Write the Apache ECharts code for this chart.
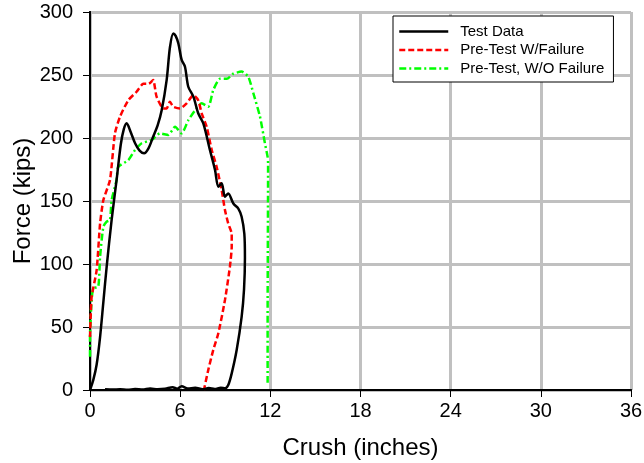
<!DOCTYPE html>
<html>
<head>
<meta charset="utf-8">
<script src="https://cdn.jsdelivr.net/npm/echarts@6/dist/echarts.min.js"></script>
<style>
html,body{margin:0;padding:0;background:#fff;}
#chart{width:644px;height:463px;}
</style>
</head>
<body>
<div id="chart"></div>
<script>
var seriesNames = ['Test Data', 'Pre-Test W/Failure', 'Pre-Test, W/O Failure'];
var xTicks = [0, 6, 12, 18, 24, 30, 36];
var yTicks = [0, 50, 100, 150, 200, 250, 300];

var testX = [0, 0.22, 0.44, 0.67, 0.89, 1.11, 1.44, 1.77, 2.05, 2.25, 2.44, 2.7, 3.0, 3.3, 3.6, 3.9, 4.2, 4.5, 4.77, 5.1, 5.32, 5.54, 5.7, 5.88, 6.1, 6.32, 6.54, 6.88, 7.2, 7.54, 7.98, 8.32, 8.54, 8.76, 8.98, 9.2, 9.54, 9.87, 10.09, 10.27, 10.31, 10.25, 10.09, 9.76, 9.43, 9.2, 8.98, 8.7, 8.3, 7.9, 7.5, 7.0, 6.5, 6.1, 5.8, 5.5, 5.0, 4.5, 4.0, 3.5, 3.0, 2.5, 2.0, 1.5, 1.0];
var testY = [0, 8, 20, 42, 70, 98, 135, 166.7, 195, 207, 211.7, 205, 195.8, 190, 187.8, 192, 201, 210, 222, 246, 272, 283, 281, 275, 262, 256.6, 240.7, 232.8, 219.6, 211.6, 190.5, 174.6, 161.4, 164, 153.4, 156, 148, 144, 137.5, 124, 105, 80, 58, 31.7, 13.2, 4, 1.3, 1.8, 0.8, 1.5, 0.5, 1.8, 1.2, 3.0, 1.0, 2.2, 1.0, 0.6, 1.2, 0.3, 0.8, 0.2, 0.6, 0.3, 0.5];

var failX = [0, 0.05, 0.11, 0.44, 0.67, 0.89, 1.33, 1.66, 2.0, 2.55, 3.1, 3.55, 3.9, 4.2, 4.43, 4.88, 5.1, 5.32, 5.54, 5.99, 6.43, 6.88, 7.2, 7.43, 7.76, 8.1, 8.43, 8.76, 8.98, 9.2, 9.43, 9.43, 9.31, 8.98, 8.54, 8.2, 7.87, 7.58];
var failY = [42, 60, 74, 95, 132, 150.8, 166.7, 203.7, 217, 230, 236.7, 243, 243, 246, 232.8, 223.5, 223.5, 228.8, 224.8, 223.5, 227.5, 234, 230, 219.6, 209, 190.5, 177, 158.7, 142.9, 132, 124, 113.7, 97.9, 71.4, 45, 31.7, 15.9, 0];

var noFailX = [0, 0, 0.11, 0.22, 0.55, 0.67, 0.89, 1.11, 1.33, 1.44, 1.77, 1.88, 2.55, 3.0, 3.44, 4.1, 4.66, 5.21, 5.66, 6.1, 6.54, 6.99, 7.43, 7.87, 8.2, 8.65, 9.1, 9.54, 10.09, 10.53, 10.87, 11.31, 11.64, 11.82, 11.85, 11.82, 11.82];
var noFailY = [26.4, 42, 71.4, 80.7, 82, 105.8, 129.6, 133.6, 135, 150.8, 166.7, 177, 182.5, 190.5, 195.8, 198.4, 203.7, 202.4, 209, 203.7, 214, 222, 227.5, 224.8, 238, 247, 247, 251, 252.7, 248.7, 235.5, 217, 195.8, 185, 180, 60, 5];

function zip(xs, ys) { return xs.map(function (x, i) { return [x, ys[i]]; }); }

var chart = echarts.init(document.getElementById('chart'), null, {renderer: 'canvas'});
var font = 'Arial, "Liberation Sans", sans-serif';
var gridLine = {show: true, lineStyle: {color: '#c0c0c0', width: 3}};
chart.setOption({
  animation: false,
  backgroundColor: '#fff',
  grid: {left: 90, right: 13, top: 12, bottom: 73, containLabel: false, outerBoundsMode: 'none'},
  legend: {
    data: seriesNames,
    orient: 'vertical',
    left: 393, top: 16,
    backgroundColor: '#fff',
    borderColor: '#000', borderWidth: 1, borderRadius: 0,
    padding: [8, 9, 6, 5],
    itemWidth: 49, itemHeight: 14, itemGap: 3.5,
    itemStyle: {color: 'rgba(0,0,0,0)', borderWidth: 0, opacity: 0},
    lineStyle: {width: 2.5},
    textStyle: {fontFamily: font, fontSize: 15, color: '#000', padding: [0, 0, 0, 7]}
  },
  xAxis: [{
    type: 'value', min: 0, max: 36, interval: 6,
    name: 'Crush (inches)', nameLocation: 'middle', nameGap: 46, nameMoveOverlap: false,
    nameTextStyle: {fontFamily: font, fontSize: 24, color: '#000'},
    axisLine: {show: true, onZero: false, lineStyle: {color: '#000', width: 2}},
    axisTick: {show: true, inside: false, length: 7, lineStyle: {color: '#000', width: 1}},
    axisLabel: {fontFamily: font, fontSize: 20, color: '#000', margin: 11,
      formatter: function (v) { return xTicks.indexOf(v) >= 0 ? String(v) : ''; }},
    splitLine: gridLine
  }, {
    type: 'value', min: 0, max: 36, position: 'top',
    axisLine: {show: true, lineStyle: {color: '#000', width: 2}},
    axisTick: {show: false}, axisLabel: {show: false}, splitLine: {show: false}
  }],
  yAxis: [{
    type: 'value', min: 0, max: 300, interval: 50,
    name: 'Force (kips)', nameLocation: 'middle', nameGap: 55, nameRotate: 90, nameMoveOverlap: false,
    nameTextStyle: {fontFamily: font, fontSize: 24, color: '#000'},
    axisLine: {show: true, onZero: false, lineStyle: {color: '#000', width: 2}},
    axisTick: {show: true, inside: false, length: 7, lineStyle: {color: '#000', width: 1}},
    axisLabel: {fontFamily: font, fontSize: 20, color: '#000', margin: 17,
      formatter: function (v) { return yTicks.indexOf(v) >= 0 ? String(v) : ''; }},
    splitLine: gridLine
  }, {
    type: 'value', min: 0, max: 300, position: 'right',
    axisLine: {show: true, lineStyle: {color: '#000', width: 2}},
    axisTick: {show: false}, axisLabel: {show: false}, splitLine: {show: false}
  }],
  series: [{
    name: seriesNames[0], type: 'line', data: zip(testX, testY),
    showSymbol: false, symbol: 'none', smooth: 0.3,
    lineStyle: {color: '#000', width: 2.5, type: 'solid'},
    itemStyle: {color: '#000'}, z: 5
  }, {
    name: seriesNames[1], type: 'line', data: zip(failX, failY),
    showSymbol: false, symbol: 'none', smooth: 0.2,
    lineStyle: {color: '#ff0000', width: 2.5, type: [6, 3]},
    itemStyle: {color: '#ff0000'}, z: 4
  }, {
    name: seriesNames[2], type: 'line', data: zip(noFailX, noFailY),
    showSymbol: false, symbol: 'none', smooth: 0.2,
    lineStyle: {color: '#00ff00', width: 2.5, type: [7, 3, 2, 3]},
    itemStyle: {color: '#00ff00'}, z: 3
  }]
});
</script>
</body>
</html>
